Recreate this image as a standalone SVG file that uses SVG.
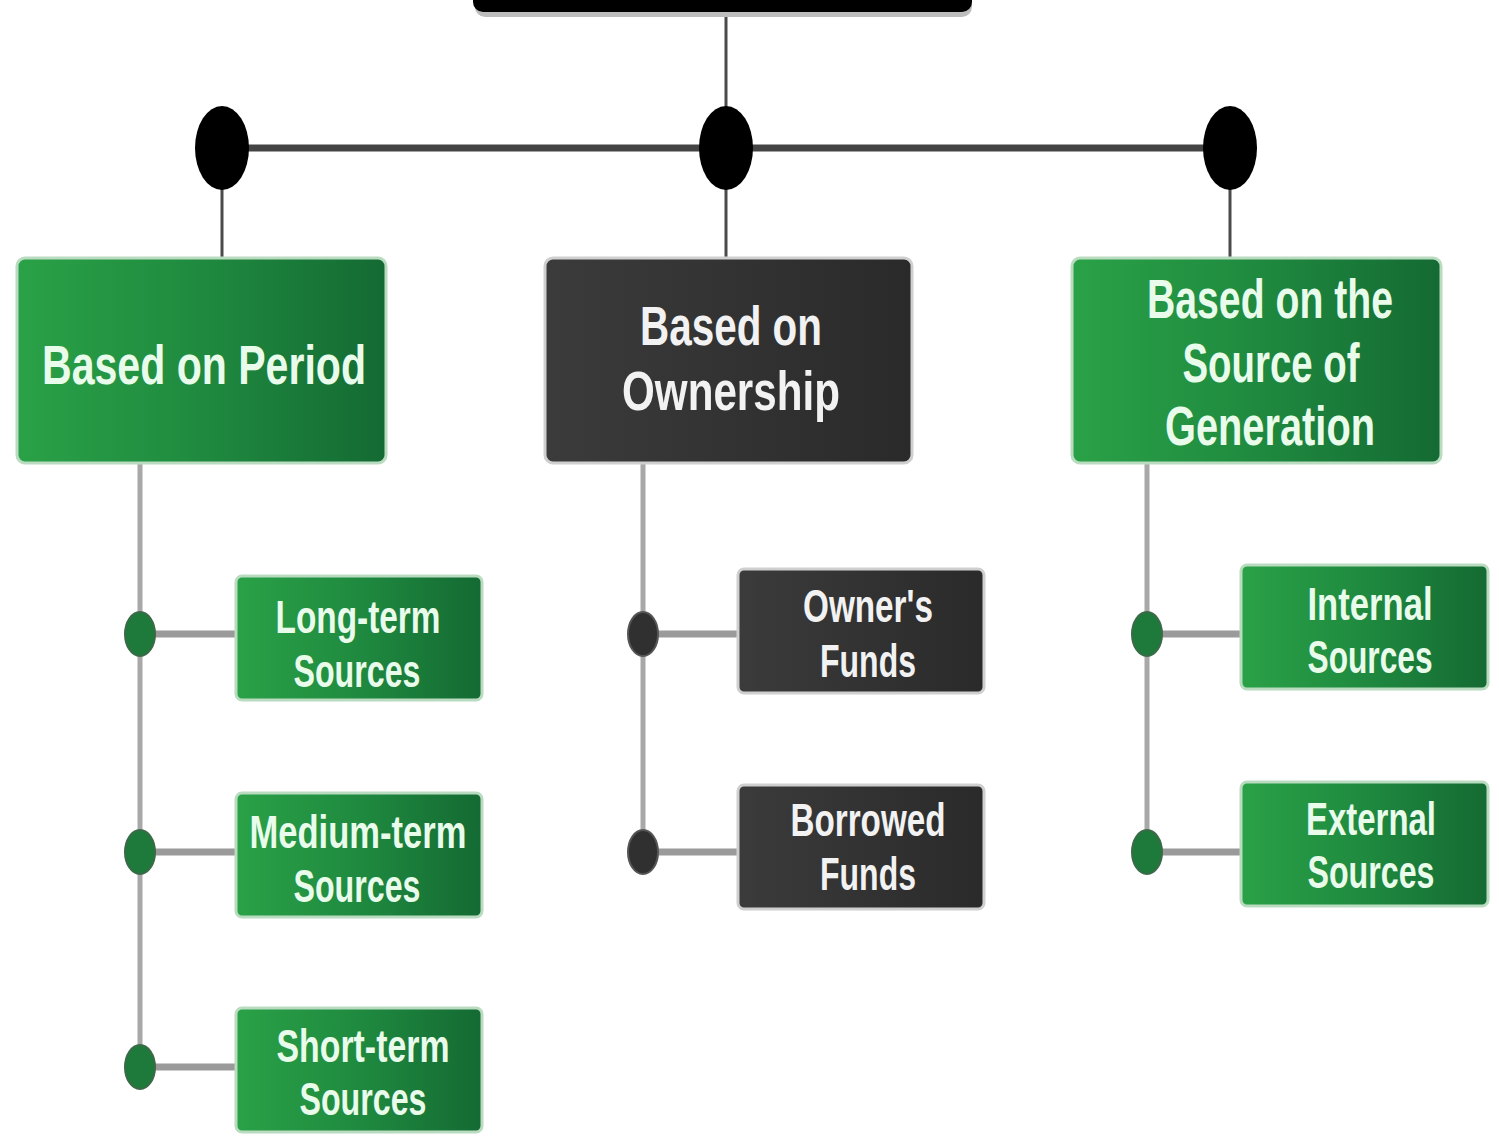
<svg xmlns="http://www.w3.org/2000/svg" width="1499" height="1138" viewBox="0 0 1499 1138">
<defs>
<linearGradient id="gG" x1="0" y1="0" x2="1" y2="0">
<stop offset="0" stop-color="#2aa147"/>
<stop offset="0.5" stop-color="#1f8a3f"/>
<stop offset="1" stop-color="#146a33"/>
</linearGradient>
<linearGradient id="gD" x1="0" y1="0" x2="1" y2="0">
<stop offset="0" stop-color="#3b3b3b"/>
<stop offset="1" stop-color="#2a2a2a"/>
</linearGradient>
</defs>
<style>
.t{font-family:"Liberation Sans",Arial,sans-serif;font-weight:bold;text-anchor:middle;}
.tg{fill:#e9fbea;}
.td{fill:#f2f2f2;}
.l1{font-size:56px;}
.l2{font-size:46px;}
.green{fill:url(#gG);stroke:#b9dcc1;stroke-width:3;}
.dark{fill:url(#gD);stroke:#cfcfcf;stroke-width:3;}
.main{stroke:#4a4a4a;stroke-width:3;fill:none;}
.bus{stroke:#444;stroke-width:7;fill:none;}
.sub{stroke:#a8a8a8;stroke-width:5;fill:none;}
.arm{stroke:#9a9a9a;stroke-width:7;fill:none;}
.dotB{fill:#000;}
.dotG{fill:#1e7a3a;stroke:#3a6a48;stroke-width:2;}
.dotD{fill:#303030;stroke:#555;stroke-width:2;}
</style>
<rect width="1499" height="1138" fill="#ffffff"/>

<g id="connectors">
<line class="main" x1="726" y1="12" x2="726" y2="110"/>
<line class="bus" x1="222" y1="148" x2="1230" y2="148"/>
<line class="main" x1="222" y1="180" x2="222" y2="260"/>
<line class="main" x1="726" y1="180" x2="726" y2="260"/>
<line class="main" x1="1230" y1="180" x2="1230" y2="260"/>
<line class="sub" x1="140" y1="463" x2="140" y2="1067"/>
<line class="sub" x1="643" y1="463" x2="643" y2="852"/>
<line class="sub" x1="1147" y1="463" x2="1147" y2="852"/>
<line class="arm" x1="140" y1="634" x2="237" y2="634"/>
<line class="arm" x1="140" y1="852" x2="237" y2="852"/>
<line class="arm" x1="140" y1="1067" x2="237" y2="1067"/>
<line class="arm" x1="643" y1="634" x2="739" y2="634"/>
<line class="arm" x1="643" y1="852" x2="739" y2="852"/>
<line class="arm" x1="1147" y1="634" x2="1242" y2="634"/>
<line class="arm" x1="1147" y1="852" x2="1242" y2="852"/>
<ellipse class="dotB" cx="222" cy="148" rx="27" ry="42"/>
<ellipse class="dotB" cx="726" cy="148" rx="27" ry="42"/>
<ellipse class="dotB" cx="1230" cy="148" rx="27" ry="42"/>
<ellipse class="dotG" cx="140" cy="634" rx="15" ry="22"/>
<ellipse class="dotG" cx="140" cy="852" rx="15" ry="22"/>
<ellipse class="dotG" cx="140" cy="1067" rx="15" ry="22"/>
<ellipse class="dotD" cx="643" cy="634" rx="15" ry="22"/>
<ellipse class="dotD" cx="643" cy="852" rx="15" ry="22"/>
<ellipse class="dotG" cx="1147" cy="634" rx="15" ry="22"/>
<ellipse class="dotG" cx="1147" cy="852" rx="15" ry="22"/>
</g>

<g id="root">
<rect x="475" y="-40" width="497" height="57" rx="10" fill="#bdbdbd"/>
<rect x="473" y="-40" width="499" height="52" rx="10" fill="#000"/>
</g>

<g id="period">
<rect class="green" x="17" y="258" width="369" height="205" rx="8"/>
<text class="t tg l1" x="204" y="384" textLength="324" lengthAdjust="spacingAndGlyphs">Based on Period</text>
</g>
<g id="ownership">
<rect class="dark" x="545" y="258" width="367" height="205" rx="8"/>
<text class="t td l1" x="731" y="345" textLength="182" lengthAdjust="spacingAndGlyphs">Based on</text>
<text class="t td l1" x="731" y="410" textLength="218" lengthAdjust="spacingAndGlyphs">Ownership</text>
</g>
<g id="generation">
<rect class="green" x="1072" y="258" width="369" height="205" rx="8"/>
<text class="t tg l1" x="1270" y="318" textLength="246" lengthAdjust="spacingAndGlyphs">Based on the</text>
<text class="t tg l1" x="1271" y="382" textLength="177" lengthAdjust="spacingAndGlyphs">Source of</text>
<text class="t tg l1" x="1270" y="445" textLength="210" lengthAdjust="spacingAndGlyphs">Generation</text>
</g>

<g id="long-term">
<rect class="green" x="236" y="576" width="246" height="124" rx="6"/>
<text class="t tg l2" x="358" y="633" textLength="165" lengthAdjust="spacingAndGlyphs">Long-term</text>
<text class="t tg l2" x="357" y="687" textLength="127" lengthAdjust="spacingAndGlyphs">Sources</text>
</g>
<g id="medium-term">
<rect class="green" x="236" y="793" width="246" height="124" rx="6"/>
<text class="t tg l2" x="358" y="848" textLength="217" lengthAdjust="spacingAndGlyphs">Medium-term</text>
<text class="t tg l2" x="357" y="902" textLength="127" lengthAdjust="spacingAndGlyphs">Sources</text>
</g>
<g id="short-term">
<rect class="green" x="236" y="1008" width="246" height="124" rx="6"/>
<text class="t tg l2" x="363" y="1062" textLength="173" lengthAdjust="spacingAndGlyphs">Short-term</text>
<text class="t tg l2" x="363" y="1115" textLength="127" lengthAdjust="spacingAndGlyphs">Sources</text>
</g>
<g id="owners-funds">
<rect class="dark" x="738" y="569" width="246" height="124" rx="6"/>
<text class="t td l2" x="868" y="622" textLength="130" lengthAdjust="spacingAndGlyphs">Owner's</text>
<text class="t td l2" x="868" y="677" textLength="96" lengthAdjust="spacingAndGlyphs">Funds</text>
</g>
<g id="borrowed-funds">
<rect class="dark" x="738" y="785" width="246" height="124" rx="6"/>
<text class="t td l2" x="868" y="836" textLength="155" lengthAdjust="spacingAndGlyphs">Borrowed</text>
<text class="t td l2" x="868" y="890" textLength="96" lengthAdjust="spacingAndGlyphs">Funds</text>
</g>
<g id="internal">
<rect class="green" x="1241" y="565" width="247" height="124" rx="6"/>
<text class="t tg l2" x="1370" y="620" textLength="125" lengthAdjust="spacingAndGlyphs">Internal</text>
<text class="t tg l2" x="1370" y="673" textLength="125" lengthAdjust="spacingAndGlyphs">Sources</text>
</g>
<g id="external">
<rect class="green" x="1241" y="782" width="247" height="124" rx="6"/>
<text class="t tg l2" x="1371" y="835" textLength="130" lengthAdjust="spacingAndGlyphs">External</text>
<text class="t tg l2" x="1371" y="888" textLength="127" lengthAdjust="spacingAndGlyphs">Sources</text>
</g>
</svg>
